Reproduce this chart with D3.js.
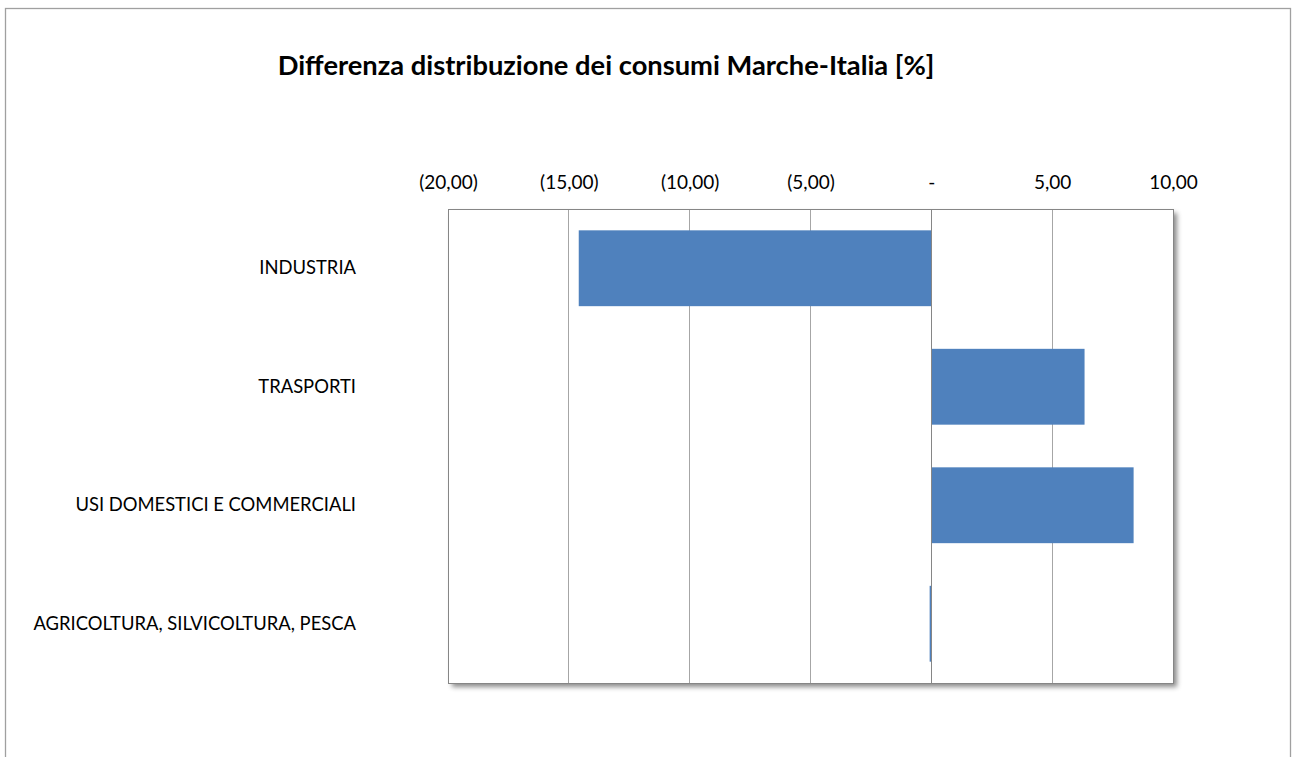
<!DOCTYPE html>
<head>
<meta charset="utf-8">
<title>Differenza distribuzione dei consumi Marche-Italia</title>
<style>
    body { margin: 0; background: white; }
    svg { display: block; }
    text { font-family: Lato, "Open Sans", sans-serif; fill: #000; }
    .title { font-weight: bold; font-size: 27.3px; }
    .axis--x text { font-size: 19px; }
    .axis--y text { font-size: 18.4px; }
    .axis path, .axis line { display: none; }
    .grid line { stroke: #a6a6a6; stroke-width: 1px; shape-rendering: crispEdges; }
    .bar { fill: #4f81bd; }
</style>
</head>
<body>
<svg></svg>
<script src="https://cdn.jsdelivr.net/npm/d3@7/dist/d3.min.js"></script>
<script>

    var categories = ["INDUSTRIA", "TRASPORTI", "USI DOMESTICI E COMMERCIALI", "AGRICOLTURA, SILVICOLTURA, PESCA"];
    var values = [-14.59, 6.34, 8.37, -0.07];
    var tickValues = [-20, -15, -10, -5, 0, 5, 10];
    var title = "Differenza distribuzione dei consumi Marche-Italia [%]";

    var W = 1294, H = 757;
    var svg = d3.select("svg").attr("width", W).attr("height", H);

    var margin = {top: 209, left: 448, right: 121, bottom: 74};
    var width = W - margin.left - margin.right,
        height = H - margin.top - margin.bottom;

    // ombra del riquadro
    var defs = svg.append("defs");
    var f = defs.append("filter").attr("id", "shadow")
        .attr("x", "-5%").attr("y", "-5%").attr("width", "115%").attr("height", "115%");
    f.append("feDropShadow").attr("dx", 4).attr("dy", 4).attr("stdDeviation", 2.5)
        .attr("flood-color", "#000").attr("flood-opacity", 0.45);

    // bordo area grafico
    svg.append("rect")
        .attr("x", 5.5).attr("y", 8.5)
        .attr("width", 1285).attr("height", 760)
        .attr("fill", "white").attr("stroke", "#a0a0a0").attr("stroke-width", 1.3);

    svg.append("text")
        .attr("class", "title")
        .attr("x", 606).attr("y", 75)
        .attr("text-anchor", "middle")
        .text(title);

    var g = svg.append("g")
        .attr("transform", "translate(" + margin.left + "," + margin.top + ")");

    var x = d3.scaleLinear().domain([-20, 10]).range([0, width]);
    var y = d3.scaleBand().domain(categories).range([0, height])
        .paddingInner(0.36).paddingOuter(0.18);

    g.append("rect")
        .attr("width", width).attr("height", height)
        .attr("fill", "white")
        .attr("filter", "url(#shadow)");

    g.append("g")
        .attr("class", "grid")
        .selectAll("line")
        .data(tickValues.filter(function (d) { return d !== 0; }))
        .enter().append("line")
        .attr("x1", function (d) { return x(d); })
        .attr("x2", function (d) { return x(d); })
        .attr("y1", 0).attr("y2", height);

    g.selectAll(".bar")
        .data(values)
        .enter().append("rect")
        .attr("class", "bar")
        .attr("x", function (d) { return x(Math.min(0, d)); })
        .attr("y", function (d, i) { return y(categories[i]); })
        .attr("width", function (d) { return Math.max(1.5, Math.abs(x(d) - x(0))); })
        .attr("height", y.bandwidth());

    // asse verticale sullo zero
    g.append("line")
        .attr("x1", x(0)).attr("x2", x(0))
        .attr("y1", 0).attr("y2", height)
        .attr("stroke", "#868686").attr("shape-rendering", "crispEdges");

    g.append("rect")
        .attr("width", width).attr("height", height)
        .attr("fill", "none").attr("stroke", "#868686")
        .attr("shape-rendering", "crispEdges");

    var fmt = function (d) {
        if (d === 0) return "-";
        var s = d3.format(".2f")(Math.abs(d)).replace(".", ",");
        return d < 0 ? "(" + s + ")" : s;
    };

    g.append("g")
        .attr("class", "axis axis--x")
        .call(d3.axisTop(x).tickValues(tickValues).tickFormat(fmt).tickSize(0).tickPadding(20));

    g.append("g")
        .attr("class", "axis axis--y")
        .call(d3.axisLeft(y).tickSize(0).tickPadding(92));

</script>
</body>
